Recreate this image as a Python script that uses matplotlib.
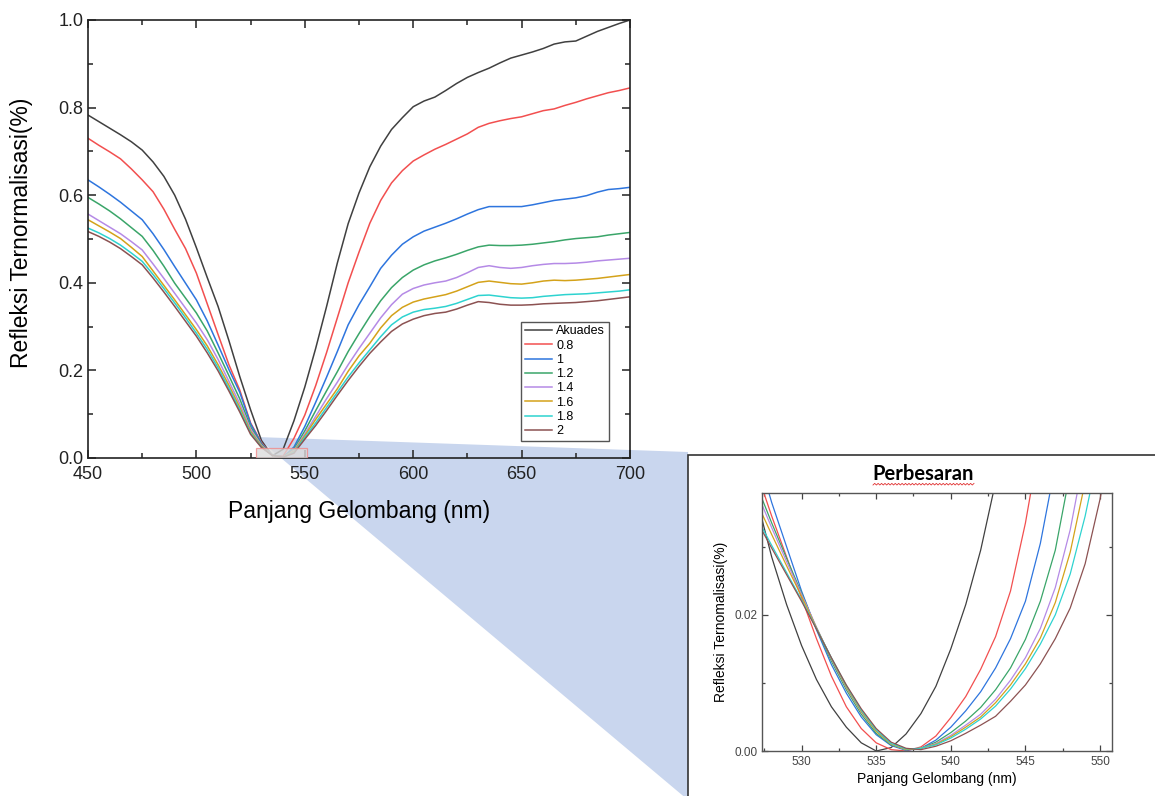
import numpy as np
import matplotlib
matplotlib.use("Agg")
import matplotlib.pyplot as plt
from matplotlib.patches import Polygon, Rectangle
from matplotlib.lines import Line2D
from matplotlib.ticker import MultipleLocator, FormatStrFormatter

# ---------------- data (main plot) ----------------
wavelength = list(range(450, 701, 5))

akuades = [.783, .768, .753, .738, .722, .703, .676, .643, .600, .545, .480, .412, .346, .268, .186, .110,
           .040, .005, .020, .085, .162, .250, .345, .445, .535, .605, .665, .712, .750, .777, .802, .815,
           .824, .839, .855, .869, .880, .890, .902, .913, .920, .927, .935, .945, .950, .952, .963, .974,
           .983, .992, 1.0]
c08 = [.730, .714, .699, .683, .660, .635, .608, .568, .522, .478, .422, .352, .282, .213, .155, .080,
       .035, .006, .004, .045, .098, .165, .240, .320, .400, .470, .536, .588, .628, .656, .678, .692,
       .705, .716, .728, .740, .755, .764, .770, .775, .779, .786, .793, .797, .805, .812, .820, .827,
       .834, .839, .845]
c10 = [.635, .619, .602, .584, .564, .544, .512, .476, .437, .399, .361, .313, .258, .202, .150, .078,
       .033, .007, .002, .025, .072, .127, .184, .243, .304, .350, .391, .433, .463, .488, .505, .518,
       .527, .536, .546, .557, .567, .574, .574, .574, .574, .578, .583, .588, .591, .594, .599, .607,
       .613, .615, .618]
c12 = [.595, .580, .564, .546, .526, .506, .474, .438, .399, .365, .331, .290, .240, .188, .135, .071,
       .031, .007, .002, .020, .062, .108, .153, .197, .243, .284, .323, .359, .389, .412, .429, .441,
       .450, .457, .465, .474, .482, .486, .485, .485, .486, .488, .491, .494, .498, .501, .503, .505,
       .509, .512, .515]
c14 = [.557, .542, .527, .512, .494, .475, .443, .410, .376, .342, .308, .270, .225, .175, .124, .066,
       .029, .007, .002, .017, .055, .095, .135, .173, .213, .250, .285, .320, .350, .374, .387, .395,
       .400, .404, .412, .423, .435, .439, .435, .433, .435, .439, .442, .444, .444, .445, .447, .450,
       .452, .454, .456]
c16 = [.544, .530, .516, .501, .481, .460, .427, .394, .361, .327, .293, .256, .213, .166, .116, .061,
       .027, .006, .002, .015, .051, .088, .123, .158, .198, .233, .262, .297, .325, .344, .356, .363,
       .368, .373, .381, .391, .401, .404, .401, .398, .397, .400, .404, .406, .405, .406, .408, .410,
       .413, .416, .419]
c18 = [.525, .514, .501, .486, .468, .449, .419, .387, .354, .320, .285, .248, .206, .159, .110, .057,
       .025, .006, .002, .013, .047, .080, .115, .150, .185, .217, .247, .277, .304, .322, .333, .339,
       .342, .346, .353, .362, .371, .372, .369, .366, .365, .366, .369, .371, .373, .374, .375, .377,
       .379, .381, .384]
c20 = [.517, .506, .493, .478, .460, .441, .411, .379, .346, .312, .278, .240, .199, .153, .105, .054,
       .024, .006, .002, .011, .043, .074, .108, .143, .177, .209, .239, .265, .289, .306, .317, .325,
       .330, .333, .340, .349, .357, .355, .351, .349, .349, .350, .352, .353, .354, .355, .357, .359,
       .362, .365, .368]

# ---------------- data (inset "Perbesaran") ----------------
inset_wavelength = list(range(527, 552))
in_akuades = [.037, .0285, .0215, .0155, .0105, .0065, .0035, .0012, .0000, .0005, .0025, .0055, .0095,
              .0150, .0215, .0295, .0395, .051, .064, .078, .093, .110, .128, .147, .167]
in_08 = [.041, .0345, .0285, .0225, .0165, .0110, .0065, .0033, .0012, .0002, .0000, .0006, .0022,
         .0049, .0080, .0120, .0168, .0235, .0335, .046, .060, .075, .091, .108, .126]
in_10 = [.044, .0365, .0300, .0235, .0178, .0127, .0085, .0050, .0024, .0008, .0001, .0004, .0016,
         .0035, .0059, .0087, .0122, .0165, .0220, .0305, .042, .056, .071, .087, .104]
in_12 = [.039, .0335, .0283, .0232, .0180, .0132, .0090, .0054, .0026, .0009, .0002, .0004, .0013,
         .0027, .0044, .0064, .0090, .0122, .0164, .0220, .0295, .041, .056, .072, .089]
in_14 = [.038, .0328, .0278, .0230, .0182, .0135, .0093, .0057, .0029, .0010, .0002, .0004, .0011,
         .0023, .0038, .0054, .0076, .0104, .0137, .0180, .0240, .0325, .044, .058, .073]
in_16 = [.0365, .0318, .0272, .0227, .0181, .0136, .0094, .0058, .0029, .0010, .0002, .0004, .0010,
         .0021, .0035, .0050, .0071, .0097, .0128, .0166, .0218, .0292, .0395, .052, .066]
in_18 = [.0343, .0302, .0262, .0222, .0180, .0137, .0096, .0060, .0031, .0011, .0003, .0004, .0009,
         .0019, .0032, .0047, .0066, .0091, .0121, .0157, .0200, .0260, .0345, .045, .058]
in_20 = [.0338, .0298, .0259, .0220, .0179, .0137, .0097, .0062, .0033, .0013, .0004, .0002, .0007,
         .0015, .0026, .0038, .0051, .0073, .0097, .0128, .0165, .0210, .0275, .0370, .049]

labels = ["Akuades", "0.8", "1", "1.2", "1.4", "1.6", "1.8", "2"]
colors = ["#404040", "#f24f4f", "#2e75de", "#3aa569", "#b58ae6", "#d4a21a", "#2ed3d0", "#8c5252"]
main_series = [akuades, c08, c10, c12, c14, c16, c18, c20]
inset_series = [in_akuades, in_08, in_10, in_12, in_14, in_16, in_18, in_20]

W, H = 1155, 796
plt.rcParams['font.family'] = ['Liberation Sans', 'DejaVu Sans']

fig = plt.figure(figsize=(W / 100, H / 100), dpi=100)

def fx(px):
    return px / W

def fy(py):
    return 1 - py / H

# zoom shading polygon (behind everything)
shade = Polygon([(fx(256), fy(437)), (fx(688), fy(452)), (fx(688), fy(800))],
                closed=True, transform=fig.transFigure, facecolor="#c9d6ee",
                edgecolor="none", zorder=-2)
fig.add_artist(shade)

# inset frame
frame = Rectangle((fx(688), fy(800)), fx(1170) - fx(688), fy(455) - fy(800),
                  transform=fig.transFigure, facecolor="white", edgecolor="#333333",
                  linewidth=1.2, zorder=-1)
fig.add_artist(frame)

# ---------------- main axes ----------------
ax = fig.add_axes([fx(88), fy(458), fx(630) - fx(88), fy(20) - fy(458)], zorder=2)
ax.set_facecolor("none")
for s, c, lab in zip(main_series, colors, labels):
    ax.plot(wavelength, s, color=c, lw=1.1, label=lab)
ax.set_xlim(450, 700)
ax.set_ylim(0, 1.0)
ax.xaxis.set_major_locator(MultipleLocator(50))
ax.xaxis.set_minor_locator(MultipleLocator(25))
ax.yaxis.set_major_locator(MultipleLocator(0.2))
ax.yaxis.set_minor_locator(MultipleLocator(0.1))
ax.yaxis.set_major_formatter(FormatStrFormatter("%.1f"))
ax.tick_params(which="both", direction="in", top=True, right=True, colors="#222222",
               labelsize=13, width=1.1)
ax.tick_params(which="major", length=6)
ax.tick_params(which="minor", length=3.5)
ax.tick_params(axis="x", pad=6)
for sp in ax.spines.values():
    sp.set_color("#222222")
    sp.set_linewidth(1.2)
ax.set_xlabel("Panjang Gelombang (nm)", fontsize=16.5)
ax.xaxis.set_label_coords(0.5, -0.095)
ax.set_ylabel("Refleksi Ternormalisasi(%)", fontsize=16.5)
ax.yaxis.set_label_coords(-0.101, 0.515)

ax.add_patch(Rectangle((527.4, 0), 550.8 - 527.4, 0.023, facecolor="#dcdcdc",
                       edgecolor="#f08a8a", linewidth=0.9, alpha=0.8, zorder=3))

leg = ax.legend(loc="lower right", bbox_to_anchor=(0.961, 0.039), fontsize=9,
                frameon=True, fancybox=False, edgecolor="#555555", framealpha=1,
                handlelength=2.2, handletextpad=0.3, labelspacing=0.18,
                borderpad=0.3, borderaxespad=0)
leg.get_frame().set_linewidth(1.0)

# ---------------- inset axes ----------------
ax2 = fig.add_axes([fx(762), fy(751), fx(1112) - fx(762), fy(493) - fy(751)], zorder=5)
for s, c in zip(inset_series, colors):
    ax2.plot(inset_wavelength, s, color=c, lw=0.9)
ax2.set_xlim(527.35, 550.8)
ax2.set_ylim(0, 0.0379)
ax2.xaxis.set_major_locator(MultipleLocator(5))
ax2.xaxis.set_minor_locator(MultipleLocator(2.5))
ax2.yaxis.set_major_locator(MultipleLocator(0.02))
ax2.yaxis.set_minor_locator(MultipleLocator(0.01))
ax2.yaxis.set_major_formatter(FormatStrFormatter("%.2f"))
ax2.tick_params(which="both", direction="in", top=True, right=True, colors="#444444",
                labelsize=8.5, width=0.9)
ax2.tick_params(which="major", length=4)
ax2.tick_params(which="minor", length=2.5)
for sp in ax2.spines.values():
    sp.set_color("#555555")
    sp.set_linewidth(1.0)
ax2.set_xlabel("Panjang Gelombang (nm)", fontsize=10, labelpad=3)
ax2.set_ylabel("Refleksi Ternomalisasi(%)", fontsize=10, labelpad=4)

fig.text(fx(923), fy(474), "Perbesaran", ha="center", va="center", fontsize=14.5,
         fontweight="bold", family=["Lato", "DejaVu Sans"])
# spell-check squiggle under the title
sx = np.linspace(fx(873), fx(974), 60)
sy = fy(485) + (np.arange(60) % 2) * (1.6 / H)
fig.add_artist(Line2D(sx, sy, transform=fig.transFigure, color="#e03030", lw=0.6))

fig.savefig("out.png", dpi=100)
